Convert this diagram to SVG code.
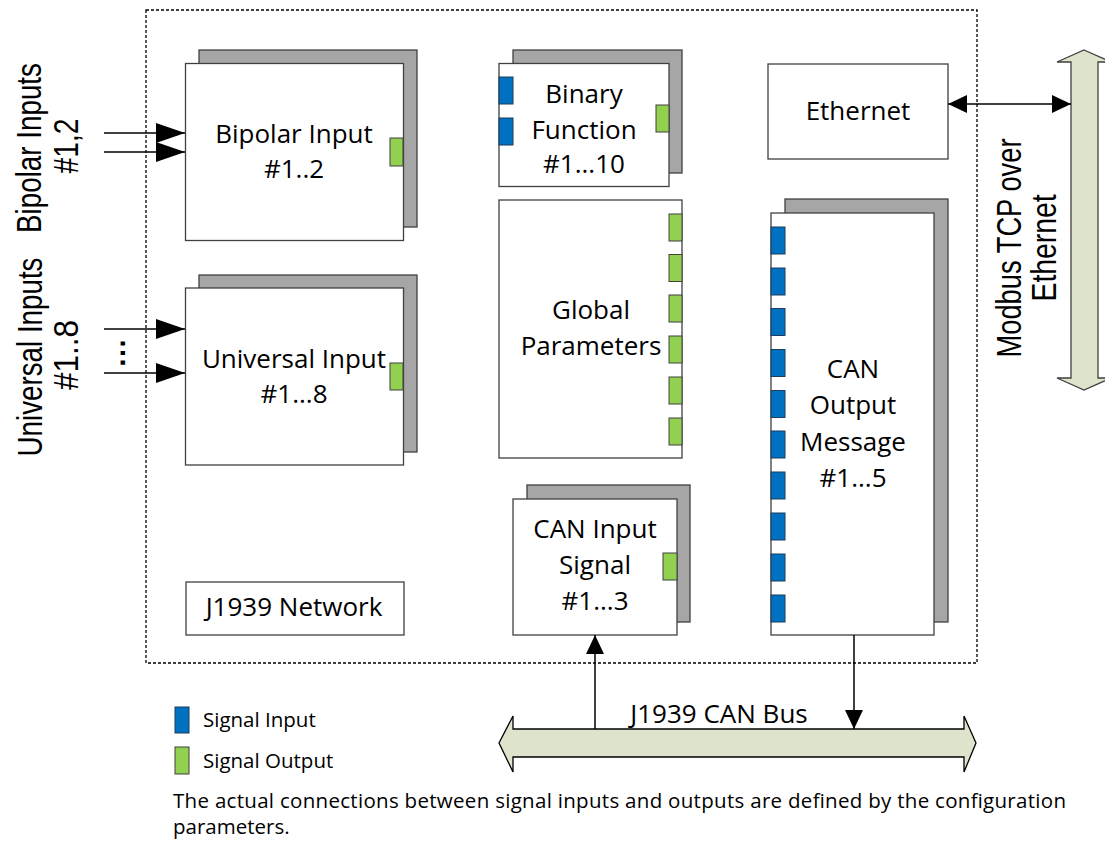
<svg xmlns="http://www.w3.org/2000/svg" width="1105" height="842" viewBox="0 0 1105 842">
<style>
.box{fill:#fff;stroke:#404040;stroke-width:1.3}
.sh{fill:#A6A6A6;stroke:#404040;stroke-width:1.3}
.in{fill:#0070C0;stroke:#1F3D5C;stroke-width:1}
.out{fill:#92D050;stroke:#404040;stroke-width:1}
.t{font-family:"Open Sans","Noto Sans","Liberation Sans",sans-serif;font-size:26px;fill:#000;text-anchor:middle}
.r{font-family:"Liberation Sans",Arial,sans-serif;font-size:35px;fill:#000;text-anchor:middle}
.s{font-family:"Open Sans","Noto Sans","Liberation Sans",sans-serif;font-size:20.5px;fill:#000}
.ln{stroke:#000;stroke-width:1.5;fill:none}
</style>
<defs>
<marker id="ah" markerUnits="userSpaceOnUse" markerWidth="30" markerHeight="22" refX="29" refY="10" orient="auto">
<path d="M0,0 L29,10 L0,20 Z" fill="#000"/>
</marker>
<marker id="as" markerUnits="userSpaceOnUse" markerWidth="20" markerHeight="20" refX="19" refY="9" orient="auto-start-reverse">
<path d="M0,0 L19,9 L0,18 Z" fill="#000"/>
</marker>
</defs>
<rect x="146" y="10" width="831" height="653" fill="none" stroke="#000" stroke-width="1.3" stroke-dasharray="3,2"/>
<g id="labels-left">
<text class="r" transform="translate(41,148) rotate(-90)" textLength="170" lengthAdjust="spacingAndGlyphs">Bipolar Inputs</text>
<text class="r" transform="translate(78,146) rotate(-90)" textLength="55" lengthAdjust="spacingAndGlyphs">#1,2</text>
<text class="r" transform="translate(42,357) rotate(-90)" textLength="199" lengthAdjust="spacingAndGlyphs">Universal Inputs</text>
<text class="r" transform="translate(78,355) rotate(-90)" textLength="70" lengthAdjust="spacingAndGlyphs">#1..8</text>
<text class="r" transform="translate(1021,248) rotate(-90)" textLength="219" lengthAdjust="spacingAndGlyphs">Modbus TCP over</text>
<text class="r" transform="translate(1056,248) rotate(-90)" textLength="107" lengthAdjust="spacingAndGlyphs">Ethernet</text>
<text transform="translate(125,353) rotate(-90)" font-family="Liberation Sans,Arial,sans-serif" font-size="30" font-weight="bold" text-anchor="middle">…</text>
</g>
<g id="bipolar-input">
<rect class="sh" x="199" y="50" width="218" height="177"/>
<rect class="box" x="185.5" y="63.5" width="218" height="177"/>
<rect class="out" x="390" y="138" width="13" height="28"/>
<text class="t" x="294" y="143">Bipolar Input</text>
<text class="t" x="294" y="178">#1..2</text>
</g>
<g id="universal-input">
<rect class="sh" x="199" y="275" width="218" height="177"/>
<rect class="box" x="185.5" y="288" width="218" height="177"/>
<rect class="out" x="390" y="363" width="13" height="27"/>
<text class="t" x="294" y="368">Universal Input</text>
<text class="t" x="294" y="403">#1...8</text>
</g>
<g id="binary-function">
<rect class="sh" x="513" y="50" width="169" height="123"/>
<rect class="box" x="499" y="63.5" width="170" height="123"/>
<rect class="in" x="499" y="77" width="14" height="27"/>
<rect class="in" x="499" y="118" width="14" height="27"/>
<rect class="out" x="656" y="105" width="13" height="27"/>
<text class="t" x="584" y="103">Binary</text>
<text class="t" x="584" y="139">Function</text>
<text class="t" x="584" y="173">#1...10</text>
</g>
<g id="global-parameters">
<rect class="box" x="499" y="200" width="183" height="258"/>
<rect class="out" x="669" y="214" width="13" height="27"/>
<rect class="out" x="669" y="254.5" width="13" height="27"/>
<rect class="out" x="669" y="295" width="13" height="27"/>
<rect class="out" x="669" y="336" width="13" height="27"/>
<rect class="out" x="669" y="377" width="13" height="27"/>
<rect class="out" x="669" y="418" width="13" height="27"/>
<text class="t" x="591" y="319">Global</text>
<text class="t" x="591" y="355">Parameters</text>
</g>
<g id="ethernet">
<rect class="box" x="768" y="64" width="180" height="95"/>
<text class="t" x="858" y="120">Ethernet</text>
</g>
<g id="can-output-message">
<rect class="sh" x="785" y="199" width="163" height="423"/>
<rect class="box" x="771" y="213" width="163" height="422"/>
<rect class="in" x="771" y="227" width="14" height="27"/>
<rect class="in" x="771" y="268" width="14" height="27"/>
<rect class="in" x="771" y="308.5" width="14" height="27"/>
<rect class="in" x="771" y="349.5" width="14" height="27"/>
<rect class="in" x="771" y="390.5" width="14" height="27"/>
<rect class="in" x="771" y="431" width="14" height="27"/>
<rect class="in" x="771" y="472" width="14" height="27"/>
<rect class="in" x="771" y="513" width="14" height="27"/>
<rect class="in" x="771" y="554" width="14" height="27"/>
<rect class="in" x="771" y="595" width="14" height="27"/>
<text class="t" x="853" y="378">CAN</text>
<text class="t" x="853" y="414">Output</text>
<text class="t" x="853" y="451">Message</text>
<text class="t" x="853" y="487">#1...5</text>
</g>
<g id="can-input-signal">
<rect class="sh" x="527" y="485" width="163" height="137"/>
<rect class="box" x="513" y="499" width="164" height="136"/>
<rect class="out" x="663" y="553" width="14" height="27"/>
<text class="t" x="595" y="538">CAN Input</text>
<text class="t" x="595" y="574">Signal</text>
<text class="t" x="595" y="610">#1...3</text>
</g>
<g id="j1939-network">
<rect class="box" x="186" y="582" width="218" height="53"/>
<text class="t" x="294" y="616">J1939 Network</text>
</g>
<g id="modbus-bus">
<path d="M1084,50 L1111,62 L1098,62 L1098,378 L1111,378 L1084,390 L1057,378 L1071,378 L1071,62 L1057,62 Z" fill="#DEE3CB" stroke="#404040" stroke-width="1.3"/>
</g>
<g id="can-bus">
<path d="M499,743 L513,716 L513,729 L964,729 L964,716 L976,743 L964,772 L964,757 L513,757 L513,772 Z" fill="#DEE3CB" stroke="#000" stroke-width="1.3"/>
<text class="t" x="719" y="723">J1939 CAN Bus</text>
</g>
<g id="connectors">
<line class="ln" x1="104" y1="133" x2="185" y2="133" marker-end="url(#ah)"/>
<line class="ln" x1="104" y1="152" x2="185" y2="152" marker-end="url(#ah)"/>
<line class="ln" x1="104" y1="329" x2="185" y2="329" marker-end="url(#ah)"/>
<line class="ln" x1="104" y1="373" x2="185" y2="373" marker-end="url(#ah)"/>
<line class="ln" x1="948" y1="104" x2="1071" y2="104" marker-start="url(#as)" marker-end="url(#as)"/>
<line class="ln" x1="595" y1="729" x2="595" y2="635" marker-end="url(#as)"/>
<line class="ln" x1="854" y1="635" x2="854" y2="729" marker-end="url(#as)"/>
</g>
<g id="legend">
<rect class="in" x="175" y="707" width="14" height="26"/>
<rect class="out" x="175" y="747" width="14" height="27"/>
<text class="s" x="203" y="727">Signal Input</text>
<text class="s" x="203" y="768">Signal Output</text>
<text class="s" x="173" y="808" textLength="893">The actual connections between signal inputs and outputs are defined by the configuration</text>
<text class="s" x="173" y="834">parameters.</text>
</g>
</svg>
